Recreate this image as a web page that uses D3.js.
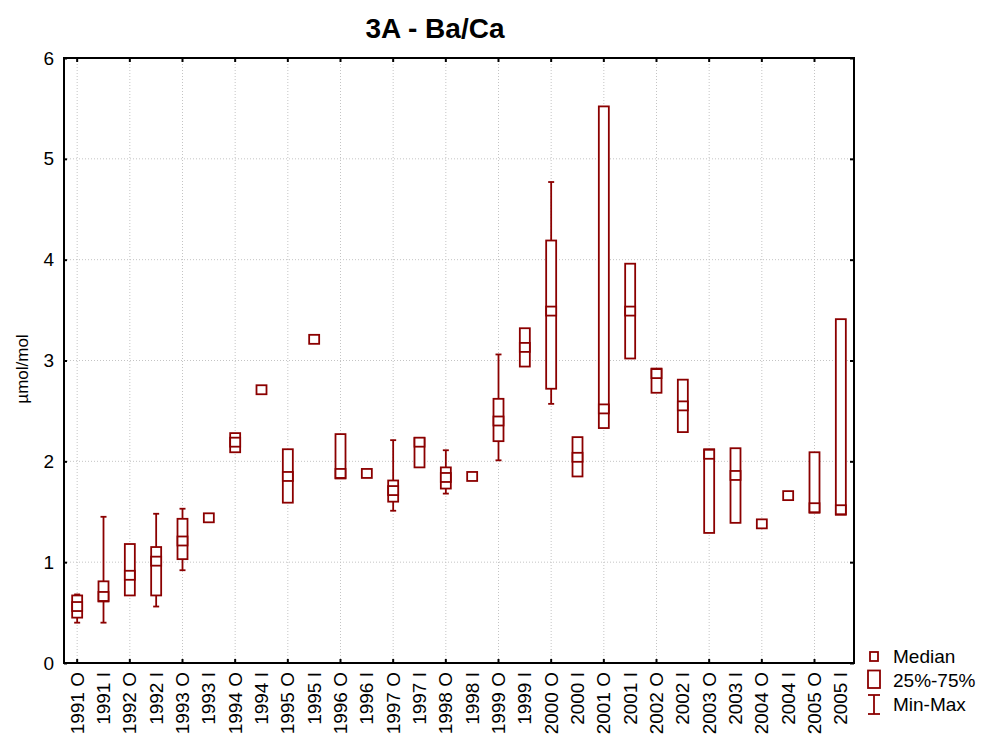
<!DOCTYPE html>
<html>
<head>
<meta charset="utf-8">
<script src="https://cdn.jsdelivr.net/npm/d3@7"></script>
<style>
  body { margin: 0; background: #fff; }
  text { font-family: "Liberation Sans", Arial, sans-serif; }
</style>
</head>
<body>
<svg id="chart" width="987" height="745"></svg>
<script>
const categories = ["1991 O","1991 I","1992 O","1992 I","1993 O","1993 I","1994 O","1994 I","1995 O","1995 I",
  "1996 O","1996 I","1997 O","1997 I","1998 O","1998 I","1999 O","1999 I","2000 O","2000 I",
  "2001 O","2001 I","2002 O","2002 I","2003 O","2003 I","2004 O","2004 I","2005 O","2005 I"];
const minVals    = [0.40,0.40,0.67,0.56,0.92,1.44,2.09,2.71,1.59,3.21,1.83,1.88,1.51,1.94,1.68,1.85,2.01,2.94,2.57,1.85,2.33,3.02,2.68,2.29,1.29,1.39,1.38,1.66,1.49,1.47];
const q1Vals     = [0.45,0.61,0.67,0.67,1.03,1.44,2.09,2.71,1.59,3.21,1.83,1.88,1.60,1.94,1.73,1.85,2.20,2.94,2.72,1.85,2.33,3.02,2.68,2.29,1.29,1.39,1.38,1.66,1.49,1.47];
const medianVals = [0.56,0.66,0.87,1.01,1.21,1.44,2.19,2.71,1.85,3.21,1.88,1.88,1.71,2.19,1.84,1.85,2.40,3.13,3.49,2.04,2.52,3.49,2.87,2.55,2.07,1.86,1.38,1.66,1.54,1.52];
const q3Vals     = [0.67,0.81,1.18,1.15,1.43,1.44,2.28,2.71,2.12,3.21,2.27,1.88,1.81,2.23,1.94,1.85,2.62,3.32,4.19,2.24,5.52,3.96,2.92,2.81,2.12,2.13,1.38,1.66,2.09,3.41];
const maxVals    = [0.68,1.45,1.18,1.48,1.53,1.44,2.28,2.71,2.12,3.21,2.27,1.88,2.21,2.23,2.11,1.85,3.06,3.32,4.77,2.24,5.52,3.96,2.92,2.81,2.12,2.13,1.38,1.66,2.09,3.41];
const yTicks = [0,1,2,3,4,5,6];
const titleText = "3A - Ba/Ca";
const yLabel = "µmol/mol";
const legendLabels = ["Median","25%-75%","Min-Max"];

const data = categories.map((c,i)=>({cat:c,min:minVals[i],q1:q1Vals[i],med:medianVals[i],q3:q3Vals[i],max:maxVals[i]}));

const svg = d3.select("#chart");
const L = 64, R = 854, T = 58, B = 663;
const color = "#8b0000";

const x = d3.scaleBand().domain(categories).range([L, R]);
const y = d3.scaleLinear().domain([0, 6]).range([B, T]);
const cx = c => x(c) + x.bandwidth() / 2;
const tickCats = categories.filter((c,i)=> i % 2 === 0);

// grid
const grid = svg.append("g");
grid.selectAll(".gy").data(yTicks.slice(1,-1)).join("line")
  .attr("x1", L).attr("x2", R).attr("y1", d=>y(d)).attr("y2", d=>y(d))
  .attr("stroke", "#c4c4c4").attr("stroke-width", 1).attr("stroke-dasharray", "1,2");
grid.selectAll(".gx").data(tickCats).join("line")
  .attr("x1", d=>cx(d)).attr("x2", d=>cx(d)).attr("y1", T).attr("y2", B)
  .attr("stroke", "#c4c4c4").attr("stroke-width", 1).attr("stroke-dasharray", "1,2");

// axes via d3 axis generators (inward ticks)
const fmt = d3.format("d");
svg.append("g").attr("transform", `translate(${L},0)`)
  .call(d3.axisLeft(y).tickValues(yTicks).tickSize(-3).tickPadding(10).tickFormat(fmt))
  .call(g => { g.select(".domain").remove(); g.selectAll("text").attr("font-size", 19).attr("fill", "#000"); g.selectAll("line").attr("stroke","#000").attr("stroke-width",2); });
svg.append("g").attr("transform", `translate(${R},0)`)
  .call(d3.axisRight(y).tickValues(yTicks).tickSize(-4).tickFormat(""))
  .call(g => { g.select(".domain").remove(); g.selectAll("line").attr("stroke","#000").attr("stroke-width",2); });
svg.append("g").attr("transform", `translate(0,${B})`)
  .call(d3.axisBottom(x).tickValues(tickCats).tickSize(-4).tickFormat(""))
  .call(g => { g.select(".domain").remove(); g.selectAll("line").attr("stroke","#000").attr("stroke-width",2); });
svg.append("g").attr("transform", `translate(0,${T})`)
  .call(d3.axisTop(x).tickValues(tickCats).tickSize(-4).tickFormat(""))
  .call(g => { g.select(".domain").remove(); g.selectAll("line").attr("stroke","#000").attr("stroke-width",2); });

// frame
svg.append("rect").attr("x", L).attr("y", T).attr("width", R-L).attr("height", B-T)
  .attr("fill", "none").attr("stroke", "#000").attr("stroke-width", 2);

// x labels (rotated)
svg.append("g").selectAll("text").data(categories).join("text")
  .attr("transform", d => `translate(${cx(d)},${B+9}) rotate(-90)`)
  .attr("text-anchor", "end").attr("dy", "0.35em")
  .attr("font-size", 19).attr("fill", "#000")
  .text(d => d);

// boxes
const bw = 10, capW = 6;
const gb = svg.append("g").attr("fill", "none").attr("stroke", color).attr("stroke-width", 1.8);
data.forEach(d => {
  const xc = cx(d.cat);
  if (d.max > d.q3) {
    gb.append("line").attr("x1", xc).attr("x2", xc).attr("y1", y(d.q3)).attr("y2", y(d.max));
    gb.append("line").attr("x1", xc-capW/2).attr("x2", xc+capW/2).attr("y1", y(d.max)).attr("y2", y(d.max));
  }
  if (d.min < d.q1) {
    gb.append("line").attr("x1", xc).attr("x2", xc).attr("y1", y(d.q1)).attr("y2", y(d.min));
    gb.append("line").attr("x1", xc-capW/2).attr("x2", xc+capW/2).attr("y1", y(d.min)).attr("y2", y(d.min));
  }
  if (d.q3 > d.q1) {
    gb.append("rect").attr("x", xc-bw/2).attr("y", y(d.q3)).attr("width", bw).attr("height", y(d.q1)-y(d.q3)).attr("fill","#fff");
  }
  gb.append("rect").attr("x", xc-bw/2).attr("y", y(d.med)-4.5).attr("width", bw).attr("height", 9).attr("fill","#fff");
});

// title
svg.append("text").attr("x", 435).attr("y", 38).attr("text-anchor", "middle")
  .attr("font-size", 28).attr("font-weight", "bold").attr("fill", "#000").text(titleText);

// y label
svg.append("text").attr("transform", "translate(28,369) rotate(-90)")
  .attr("text-anchor", "middle").attr("font-size", 17).attr("fill", "#000").text(yLabel);

// legend
const lg = svg.append("g");
const ls = lg.append("g").attr("fill", "#fff").attr("stroke", color).attr("stroke-width", 1.8);
ls.append("rect").attr("x", 870).attr("y", 652).attr("width", 8).attr("height", 9);
ls.append("rect").attr("x", 868).attr("y", 670.5).attr("width", 12).attr("height", 17.5);
ls.append("line").attr("x1", 874).attr("x2", 874).attr("y1", 695).attr("y2", 714);
ls.append("line").attr("x1", 868).attr("x2", 880).attr("y1", 695).attr("y2", 695);
ls.append("line").attr("x1", 868).attr("x2", 880).attr("y1", 714).attr("y2", 714);
lg.selectAll("text").data(legendLabels).join("text")
  .attr("x", 893).attr("y", (d,i) => 663 + i*23.8)
  .attr("font-size", 19).attr("fill", "#000").text(d => d);
</script>
</body>
</html>
